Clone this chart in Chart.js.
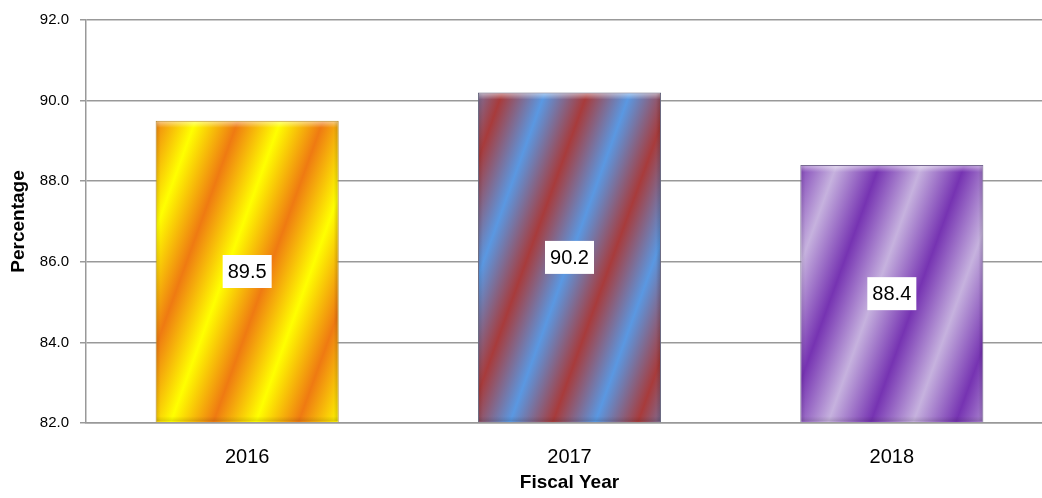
<!DOCTYPE html>
<html>
<head>
<meta charset="utf-8">
<title>Percentage by Fiscal Year</title>
<script src="https://cdn.jsdelivr.net/npm/chart.js@4.4.1/dist/chart.umd.min.js"></script>
<style>
    html, body { margin: 0; padding: 0; background: #fff; overflow: hidden; }
    #wrap { width: 1042px; height: 498px; overflow: hidden; }
</style>
</head>
<body>
<div id="wrap"><canvas id="chart" width="1060" height="498"></canvas></div>
<script>
const years = ['2016', '2017', '2018'];
const percentages = [89.5, 90.2, 88.4];
const yTicks = [82, 84, 86, 88, 90, 92];

// stripe colours per bar: [light stripe, dark stripe]
const stripeColors = [
    ['#ffff00', '#ef7a12'],
    ['#5a98e2', '#a83b3b'],
    ['#c6b2de', '#7633b2']
];
const stripeBorder = ['#b0882a', '#66667e', '#786a92'];
const stripeOffset = [14, 30, 26];

const font = '"Liberation Sans", Arial, sans-serif';

const BAR_PCT = 0.568;
const TILT = 20 * Math.PI / 180;
const PERIOD = 80;

function stripes(context) {
    const chart = context.chart;
    const area = chart.chartArea;
    const i = context.dataIndex;
    if (!area || i === undefined) return stripeColors[0][0];
    const catW = area.width / years.length;
    const barW = catW * BAR_PCT;
    const left = chart.scales.x.getPixelForValue(i) - barW / 2;
    const bottom = area.bottom;
    const nx = Math.cos(TILT), ny = Math.sin(TILT);
    const d0 = -160, d1 = 220;
    const g = chart.ctx.createLinearGradient(
        left + d0 * nx, bottom + d0 * ny,
        left + d1 * nx, bottom + d1 * ny
    );
    const [light, dark] = stripeColors[i];
    const span = d1 - d0;
    let d = stripeOffset[i];
    while (d > d0) d -= PERIOD;
    let k = 0;
    for (; d <= d1 + PERIOD; d += PERIOD / 2, k++) {
        const t = (d - d0) / span;
        if (t < 0 || t > 1) continue;
        g.addColorStop(t, k % 2 === 0 ? light : dark);
    }
    return g;
}

const valueBoxes = {
    id: 'valueBoxes',
    afterDatasetsDraw(chart) {
        const ctx = chart.ctx;
        const meta = chart.getDatasetMeta(0);
        ctx.save();
        meta.data.forEach((bar, i) => {
            const w = bar.width;
            const l = bar.x - w / 2;
            const h = bar.base - bar.y;
            // bevel: light top, darker sides and bottom
            const top = ctx.createLinearGradient(0, bar.y, 0, bar.y + 7);
            top.addColorStop(0, 'rgba(255,255,255,0.55)');
            top.addColorStop(1, 'rgba(255,255,255,0)');
            ctx.fillStyle = top;
            ctx.fillRect(l + 1, bar.y + 1, w - 2, 7);
            const lg = ctx.createLinearGradient(l, 0, l + 5, 0);
            lg.addColorStop(0, 'rgba(0,0,0,0.12)');
            lg.addColorStop(1, 'rgba(0,0,0,0)');
            ctx.fillStyle = lg;
            ctx.fillRect(l + 1, bar.y + 1, 5, h - 2);
            const rg = ctx.createLinearGradient(l + w - 5, 0, l + w, 0);
            rg.addColorStop(0, 'rgba(0,0,0,0)');
            rg.addColorStop(1, 'rgba(0,0,0,0.18)');
            ctx.fillStyle = rg;
            ctx.fillRect(l + w - 6, bar.y + 1, 5, h - 2);
            const bg = ctx.createLinearGradient(0, bar.base - 6, 0, bar.base);
            bg.addColorStop(0, 'rgba(0,0,0,0)');
            bg.addColorStop(1, 'rgba(0,0,0,0.15)');
            ctx.fillStyle = bg;
            ctx.fillRect(l + 1, bar.base - 6, w - 2, 5);

            const cy = (bar.y + bar.base) / 2;
            ctx.fillStyle = '#ffffff';
            ctx.fillRect(bar.x - 24.5, cy - 16.5, 49, 33);
            ctx.fillStyle = '#000000';
            ctx.font = '20px ' + font;
            ctx.textAlign = 'center';
            ctx.textBaseline = 'middle';
            ctx.fillText(percentages[i].toFixed(1), bar.x, cy + 1);
        });
        ctx.restore();
    }
};

new Chart(document.getElementById('chart'), {
    type: 'bar',
    data: {
        labels: years,
        datasets: [{
            data: percentages,
            base: yTicks[0],
            backgroundColor: stripes,
            borderColor: stripeBorder,
            borderWidth: 1,
            barPercentage: BAR_PCT,
            categoryPercentage: 1
        }]
    },
    options: {
        responsive: false,
        animation: false,
        devicePixelRatio: 1,
        layout: { padding: { top: 18, right: 7, left: 0, bottom: 0 } },
        plugins: {
            legend: { display: false },
            tooltip: { enabled: false }
        },
        scales: {
            x: {
                grid: { display: false },
                border: { display: true, color: '#999999', width: 1.5 },
                ticks: {
                    color: '#000',
                    padding: 14,
                    font: { family: font, size: 20 }
                },
                title: {
                    display: true,
                    text: 'Fiscal Year',
                    color: '#000',
                    padding: { top: 0, bottom: 4 },
                    font: { family: font, size: 19, weight: 'bold' }
                },
                afterFit: (scale) => { scale.height = 75; }
            },
            y: {
                min: yTicks[0],
                max: yTicks[yTicks.length - 1],
                afterBuildTicks: (scale) => { scale.ticks = yTicks.map(v => ({ value: v })); },
                grid: { color: '#999999', lineWidth: 1.5, tickLength: 6, drawTicks: true },
                border: { display: true, color: '#999999', width: 1.5 },
                ticks: {
                    color: '#000',
                    padding: 11,
                    font: { family: font, size: 15 },
                    callback: (v) => Number(v).toFixed(1)
                },
                title: {
                    display: true,
                    text: 'Percentage',
                    color: '#000',
                    padding: { top: 7, bottom: 0 },
                    font: { family: font, size: 19, weight: 'bold' }
                },
                afterFit: (scale) => { scale.width = 86; }
            }
        }
    },
    plugins: [valueBoxes]
});
</script>
</body>
</html>
